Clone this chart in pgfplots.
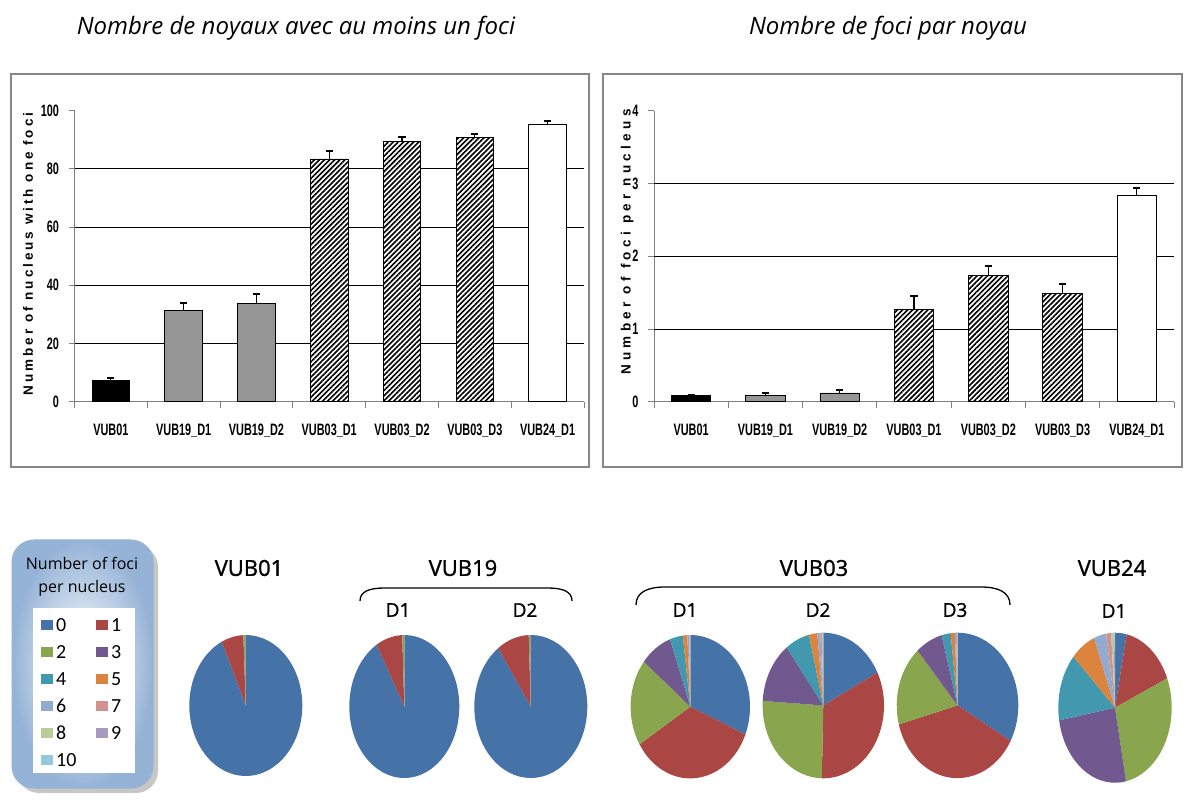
\documentclass[border=0pt]{standalone}
\usepackage{pgfplots}
\pgfplotsset{compat=1.18}
\usepackage{pgfplotstable}
\usepackage{fontspec}
\usetikzlibrary{patterns.meta}
\setmainfont{Liberation Sans}
\newfontfamily\narrowfont[FakeStretch=0.66]{Liberation Sans}
\newfontfamily\spacedL[LetterSpace=22]{Liberation Sans}
\newfontfamily\spacedR[LetterSpace=32]{Liberation Sans}
\newfontfamily\comic{Open Sans}
\newfontfamily\comicb[FakeBold=1.2]{Open Sans}
\newfontfamily\calib{Carlito}

\definecolor{pie0}{HTML}{4572A7}
\definecolor{pie1}{HTML}{AA4643}
\definecolor{pie2}{HTML}{89A54E}
\definecolor{pie3}{HTML}{71588F}
\definecolor{pie4}{HTML}{4198AF}
\definecolor{pie5}{HTML}{DB843D}
\definecolor{pie6}{HTML}{93A9CF}
\definecolor{pie7}{HTML}{D19392}
\definecolor{pie8}{HTML}{B9CD96}
\definecolor{pie9}{HTML}{A99BBD}
\definecolor{pie10}{HTML}{92C8DA}
\definecolor{boxblue}{HTML}{95B3D7}
\definecolor{framegray}{HTML}{868686}
\definecolor{bargray}{HTML}{969696}

% share of nuclei (%) having 0..10 foci
\pgfplotstableread{
foci VUB01 VUB19D1 VUB19D2 VUB03D1 VUB03D2 VUB03D3 VUB24D1
0  93.0 91.6 90.2 31.3 17.5 33.1  3.3
1   6.3  7.8  9.2 34.9 32.9 37.7 15.3
2   0.6  0.5  0.5 19.6 25.6 17.8 28.3
3   0.1  0.1  0.1  8.7 13.7  7.2 25.4
4   0    0    0    3.5  6.5  2.4 14.6
5   0    0    0    1.2  2.2  1.1  7.1
6   0    0    0    0.4  0.8  0.3  3.5
7   0    0    0    0.2  0.4  0.2  1.4
8   0    0    0    0.1  0.2  0.1  0.7
9   0    0    0    0.05 0.1  0.05 0.3
10  0    0    0    0.05 0.1  0.05 0.1
}\piedata

\gdef\allpies{}
% #1 column, #2 cx, #3 cy (axis units = image px), #4 rx, #5 ry
\newcommand\addpie[5]{%
  \xdef\pieangle{90}%
  \pgfplotstableforeachcolumnelement{#1}\of\piedata\as\pieval{%
    \pgfmathsetmacro\pieend{\pieangle-3.6*\pieval}%
    \xdef\allpies{\unexpanded\expandafter{\allpies}%
      \noexpand\fill[pie\pgfplotstablerow] (axis cs:#2,#3) -- ++(\pieangle:#4pt and #5pt)
        arc[start angle=\pieangle, end angle=\pieend, x radius=#4pt, y radius=#5pt] -- cycle;}%
    \xdef\pieangle{\pieend}%
  }%
}

\pgfplotsset{
  barchart/.style={
    scale only axis, anchor=south west, height=291pt,
    xmin=-0.5, xmax=6.5, ymin=0,
    axis x line*=bottom, axis y line*=left,
    axis line style={draw=gray, line width=0.8pt},
    tick align=outside,
    major tick length=6pt,
    tick style={draw=gray, line width=0.8pt},
    xtick={-0.5,0.5,...,6.5}, xticklabels={},
    extra x ticks={0,1,2,3,4,5,6},
    extra x tick labels={VUB01,VUB19\_D1,VUB19\_D2,VUB03\_D1,VUB03\_D2,VUB03\_D3,VUB24\_D1},
    extra x tick style={major tick length=0pt},
    /pgf/number format/assume math mode=true,
    xticklabel style={font=\narrowfont\bfseries\fontsize{16.5}{18}\selectfont, yshift=-19pt},
    yticklabel style={font=\narrowfont\bfseries\fontsize{16.5}{18}\selectfont, xshift=-6pt},
    extra y tick style={grid=major, major grid style={black, line width=0.8pt}, major tick length=0pt},
    extra y tick labels={},
  },
  errstyle/.style={
    error bars/.cd, y dir=plus, y explicit,
    error bar style={line width=1.2pt, black},
    error mark options={rotate=90, line width=2pt, black, mark size=3.6pt},
  },
  blackbar/.style={ybar, bar shift=0pt, draw=black, line width=0.9pt, fill=black, errstyle},
  graybar/.style={ybar, bar shift=0pt, draw=black, line width=0.9pt, fill=bargray, errstyle},
  hatchbar/.style={ybar, bar shift=0pt, draw=black, line width=0.9pt, fill=white,
    postaction={pattern={Lines[angle=45,distance=3.6pt,line width=1.6pt]}, pattern color=black}, errstyle},
  whitebar/.style={ybar, bar shift=0pt, draw=black, line width=0.9pt, fill=white, errstyle},
}

\begin{document}
\begin{tikzpicture}
\useasboundingbox (0,0) rectangle (1185pt,800pt);

\addpie{VUB01}{245.8}{705.5}{56.5}{70.5}
\addpie{VUB19D1}{404.3}{706.5}{55}{71.5}
\addpie{VUB19D2}{530.8}{706.5}{56.5}{71.5}
\addpie{VUB03D1}{690.3}{706.7}{59.7}{71.7}
\addpie{VUB03D2}{823.3}{705.5}{60.7}{72.8}
\addpie{VUB03D3}{957.5}{705.4}{60.8}{72.7}
\addpie{VUB24D1}{1115}{707.7}{56.7}{75}

% ---------- left bar chart ----------
\begin{axis}[barchart, at={(74.5pt,398.3pt)}, width=509.5pt, ymax=100,
  ytick={0,20,40,60,80,100}, extra y ticks={20,40,60,80}, bar width=37.5pt]
\addplot[blackbar] coordinates {(0,7.2) +- (0,0.9)};
\addplot[graybar] coordinates {(1,31.2) +- (0,2.6) (2,33.8) +- (0,3.3)};
\addplot[hatchbar] coordinates {(3,83.4) +- (0,2.7) (4,89.4) +- (0,1.4) (5,90.8) +- (0,1.2)};
\addplot[whitebar] coordinates {(6,95.3) +- (0,1.1)};
\end{axis}

% ---------- right bar chart ----------
\begin{axis}[barchart, at={(654pt,398.3pt)}, width=520pt, ymax=4,
  ytick={0,1,2,3,4}, extra y ticks={1,2,3}, bar width=39.5pt]
\addplot[blackbar] coordinates {(0,0.092) +- (0,0)};
\addplot[graybar] coordinates {(1,0.087) +- (0,0.033) (2,0.12) +- (0,0.04)};
\addplot[hatchbar] coordinates {(3,1.27) +- (0,0.18) (4,1.73) +- (0,0.13) (5,1.49) +- (0,0.13)};
\addplot[whitebar] coordinates {(6,2.84) +- (0,0.10)};
\end{axis}

% ---------- pies ----------
\begin{axis}[at={(0pt,0pt)}, anchor=south west, scale only axis, width=1185pt, height=800pt,
  xmin=0, xmax=1185, ymin=0, ymax=800, y dir=reverse, hide axis, clip=false]
\allpies
\end{axis}

\begin{scope}[x=1pt,y=-1pt,shift={(0pt,800pt)}]
  \draw[framegray, line width=1.3pt] (11,74) rectangle (589,467);
  \draw[framegray, line width=1.3pt] (603,74) rectangle (1182,467);
  \node[font=\comic\itshape\fontsize{24}{27}\selectfont, anchor=base] at (296,35) {Nombre de noyaux avec au moins un foci};
  \node[font=\comic\itshape\fontsize{24}{27}\selectfont, anchor=base] at (888,35) {Nombre de foci par noyau};
  \node[rotate=90, font=\spacedL\bfseries\fontsize{13.5}{16}\selectfont] at (28,254) {Number of nucleus with one foci};
  \node[rotate=90, font=\spacedR\bfseries\fontsize{13.5}{16}\selectfont] at (627,242) {Number of foci per nucleus};
  % legend box
  \fill[black!22, rounded corners=22pt] (17,545) rectangle (158,793);
  \shadedraw[rounded corners=22pt, inner color=white, outer color=boxblue, draw=boxblue, line width=1pt] (12,540) rectangle (153,788);
  \fill[white] (33,608) rectangle (135,773);
  \node[font=\comic\fontsize{16}{18}\selectfont] at (82,563) {Number of foci};
  \node[font=\comic\fontsize{16}{18}\selectfont] at (82,588) {per nucleus};
  \foreach \i in {0,...,10}{
    \pgfmathtruncatemacro\c{mod(\i,2)}
    \pgfmathtruncatemacro\r{div(\i,2)}
    \fill[pie\i] ({41+54.5*\c},{620+27*\r}) rectangle ++(12,10);
    \node[font=\calib\fontsize{20}{22}\selectfont, anchor=west, inner sep=0pt] at ({56+55*\c},{625+27*\r}) {\i};
  }
  % pie titles
  \tikzset{pl/.style={font=\comicb\fontsize{22}{24}\selectfont}, dl/.style={font=\comicb\fontsize{19}{22}\selectfont}}
  \node[pl] at (249,568) {VUB01};
  \node[pl] at (463,568) {VUB19};
  \node[dl] at (398,610) {D1};
  \node[dl] at (525,610) {D2};
  \node[pl] at (814,568) {VUB03};
  \node[dl] at (685,610) {D1};
  \node[dl] at (818,610) {D2};
  \node[dl] at (955,610) {D3};
  \node[pl] at (1112,568) {VUB24};
  \node[dl] at (1114,611) {D1};
  \draw[line width=1.3pt] (360,601) .. controls (360,591) and (370,588) .. (385,588) -- (547,588) .. controls (562,588) and (572,591) .. (572,601);
  \draw[line width=1.3pt] (636,605) .. controls (636,592) and (648,587) .. (665,587) -- (981,587) .. controls (998,587) and (1010,592) .. (1010,605);
\end{scope}
\end{tikzpicture}
\end{document}
